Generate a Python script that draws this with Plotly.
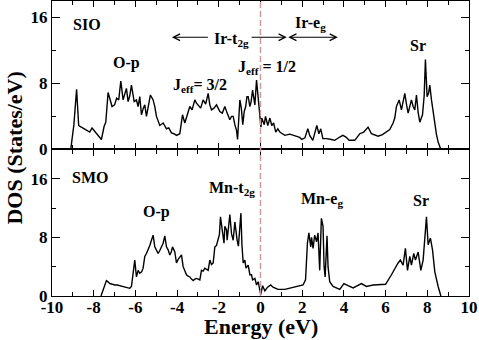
import plotly.graph_objects as go
from plotly.subplots import make_subplots

# SIO (top panel) DOS
sio_energy = [-9.10, -8.95, -8.82, -8.72, -8.45, -8.19, -8.08, -7.85, -7.63, -7.50, -7.42, -7.31, -7.20, -7.12,
              -7.00, -6.90, -6.80, -6.70, -6.59, -6.50, -6.43, -6.35, -6.27, -6.19, -6.12, -6.06, -5.95, -5.87,
              -5.79, -5.71, -5.62, -5.55, -5.47, -5.38, -5.28, -5.15, -5.07, -4.99, -4.90, -4.83, -4.67, -4.51,
              -4.40, -4.27, -4.15, -4.03, -3.87, -3.80, -3.74, -3.63, -3.50, -3.39, -3.28, -3.15, -3.07, -2.99,
              -2.87, -2.75, -2.63, -2.51, -2.43, -2.35, -2.23, -2.11, -2.03, -1.95, -1.83, -1.71, -1.60, -1.47,
              -1.39, -1.31, -1.23, -1.15, -1.10, -1.04, -0.99, -0.92, -0.85, -0.78, -0.71, -0.65, -0.59, -0.51,
              -0.45, -0.38, -0.27, -0.19, -0.12, -0.06, -0.02, 0.02, 0.06, 0.12, 0.18, 0.24, 0.30, 0.35, 0.45,
              0.54, 0.63, 0.73, 0.83, 0.93, 1.05, 1.17, 1.41, 1.65, 1.88, 1.98, 2.13, 2.27, 2.36, 2.51, 2.61,
              2.70, 2.80, 2.89, 2.99, 3.18, 3.40, 3.56, 3.80, 3.95, 4.10, 4.25, 4.52, 4.76, 4.95, 5.16, 5.32,
              5.64, 5.85, 6.04, 6.20, 6.36, 6.44, 6.52, 6.65, 6.76, 6.92, 7.00, 7.08, 7.24, 7.32, 7.40, 7.48,
              7.56, 7.64, 7.77, 7.85, 7.91, 7.99, 8.06, 8.12, 8.20, 8.28, 8.36, 8.44, 8.52, 8.63, 8.75]
sio_dos = [0, 3.0, 7.3, 2.9, 2.5, 2.1, 2.6, 1.9, 1.2, 2.8, 3.3, 6.9, 6.0, 5.2,
           5.4, 6.2, 6.0, 8.3, 6.0, 6.8, 7.4, 5.8, 6.5, 7.8, 6.4, 5.8, 6.0, 5.2,
           6.4, 4.2, 5.0, 5.4, 4.0, 5.5, 6.6, 6.0, 5.2, 4.0, 3.2, 2.9, 3.2, 2.5,
           2.6, 2.0, 1.9, 1.7, 1.9, 3.0, 4.2, 3.2, 4.3, 5.2, 4.8, 6.0, 5.6, 5.4,
           5.0, 6.0, 5.5, 6.8, 5.4, 4.8, 5.0, 5.4, 4.9, 4.6, 4.4, 5.2, 4.4, 3.6,
           4.0, 4.0, 3.0, 2.3, 1.2, 3.5, 6.0, 5.0, 3.0, 4.6, 5.2, 6.4, 6.4, 5.2,
           5.8, 7.2, 5.4, 8.4, 6.6, 5.0, 3.6, 2.7, 3.8, 3.4, 3.0, 4.0, 3.3, 2.9, 3.8,
           2.9, 3.2, 2.1, 2.5, 2.1, 1.9, 1.7, 1.85, 1.6, 1.45, 1.2, 1.4, 2.5, 1.7, 1.1, 2.1,
           2.9, 1.9, 2.5, 1.3, 1.3, 1.2, 1.1, 1.5, 1.7, 1.5, 1.1, 1.1, 1.9, 2.1, 2.7, 1.9,
           1.6, 1.8, 2.1, 2.4, 3.2, 3.8, 5.2, 6.0, 4.8, 6.8, 5.5, 4.4, 6.0, 5.2, 4.8, 6.6,
           4.5, 3.3, 4.2, 6.5, 10.9, 6.4, 6.8, 7.8, 6.0, 4.5, 2.9, 1.8, 0.9, 0.1, 0]

# SMO (bottom panel) DOS
smo_energy = [-7.65, -7.50, -7.39, -7.30, -7.23, -7.10, -6.99, -6.87, -6.75, -6.63, -6.51, -6.40, -6.27, -6.19,
              -6.11, -6.03, -5.95, -5.87, -5.79, -5.70, -5.63, -5.55, -5.47, -5.39, -5.31, -5.23, -5.15, -5.07,
              -4.99, -4.91, -4.83, -4.75, -4.67, -4.59, -4.51, -4.43, -4.35, -4.28, -4.22, -4.11, -4.03, -3.95,
              -3.87, -3.79, -3.71, -3.63, -3.55, -3.47, -3.39, -3.31, -3.23, -3.15, -3.07, -2.99, -2.91, -2.83,
              -2.75, -2.67, -2.59, -2.51, -2.43, -2.35, -2.27, -2.19, -2.11, -2.03, -1.97, -1.92, -1.87, -1.82,
              -1.75, -1.71, -1.63, -1.60, -1.52, -1.47, -1.39, -1.31, -1.23, -1.17, -1.12, -1.06, -1.00, -0.94,
              -0.89, -0.83, -0.75, -0.70, -0.59, -0.51, -0.43, -0.38, -0.27, -0.19, -0.11, -0.03, 0.01, 0.10,
              0.21, 0.34, 0.49, 0.60, 0.84, 1.17, 1.64, 2.04, 2.16, 2.25, 2.32, 2.41, 2.45, 2.52, 2.60, 2.69,
              2.76, 2.81, 2.84, 2.92, 3.00, 3.05, 3.10, 3.19, 3.24, 3.32, 3.48, 3.80, 4.00, 4.20, 4.44, 4.84,
              5.08, 5.40, 5.72, 6.00, 6.28, 6.44, 6.60, 6.71, 6.84, 6.95, 7.05, 7.16, 7.24, 7.35, 7.43, 7.56,
              7.69, 7.80, 7.96, 8.04, 8.15, 8.25, 8.36, 8.52, 8.65]
smo_dos = [0, 1.2, 2.1, 1.9, 1.7, 1.6, 1.5, 1.5, 1.4, 1.3, 1.2, 1.1, 1.05, 1.3,
           3.5, 4.9, 2.6, 3.5, 3.1, 3.3, 3.8, 5.4, 5.8, 6.3, 6.9, 7.6, 8.3, 6.7,
           6.3, 5.8, 6.2, 6.7, 7.2, 8.2, 6.7, 6.3, 5.6, 6.0, 6.7, 6.0, 4.5, 5.0,
           5.4, 5.6, 4.0, 3.3, 2.9, 2.7, 2.6, 2.3, 2.1, 2.3, 2.4, 2.3, 2.2, 3.5,
           3.4, 3.8, 3.6, 3.5, 4.9, 4.3, 4.5, 6.7, 6.9, 8.0, 8.4, 10.8, 9.5, 8.8,
           7.2, 9.5, 9.0, 7.6, 9.3, 11.1, 8.5, 7.6, 10.1, 8.3, 7.6, 6.8, 9.0, 11.3,
           7.0, 4.5, 4.9, 3.8, 4.2, 2.9, 2.9, 2.2, 2.4, 1.5, 1.95, 0.9, 0.2, 1.4,
           0.7, 1.2, 1.5, 1.2, 0.9, 0.9, 1.2, 1.5, 2.2, 7.2, 8.6, 6.7, 8.0, 6.5, 8.3, 7.4,
           8.6, 4.9, 3.5, 10.6, 9.5, 4.0, 2.6, 8.2, 4.0, 1.95, 1.3, 0.9, 1.7, 1.4, 1.1, 1.7,
           1.3, 1.5, 1.5, 1.6, 2.9, 3.8, 4.5, 4.9, 4.2, 6.5, 3.5, 5.4, 4.2, 5.8, 4.9, 6.0,
           3.5, 4.9, 10.8, 7.0, 7.9, 6.3, 3.3, 1.3, 0]

x_ticks = [-10, -8, -6, -4, -2, 0, 2, 4, 6, 8, 10]
x_tick_text = ["-10", "-8", "-6", "-4", "-2", "0", "2", "4", "6", "8", "10"]
y_ticks = [0, 8, 16]

font_family = "Liberation Serif, Times New Roman, serif"
black = "black"

fig = make_subplots(rows=2, cols=1, shared_xaxes=True, vertical_spacing=0)

fig.add_trace(go.Scatter(x=sio_energy, y=sio_dos, mode="lines",
                         line=dict(color=black, width=1.4), showlegend=False), row=1, col=1)
fig.add_trace(go.Scatter(x=smo_energy, y=smo_dos, mode="lines",
                         line=dict(color=black, width=1.4), showlegend=False), row=2, col=1)

axis_common = dict(showline=True, linecolor=black, linewidth=1.3, mirror="ticks",
                   ticks="inside", tickcolor=black, tickwidth=1.2, showgrid=False, zeroline=False,
                   automargin=False,
                   tickfont=dict(family=font_family, size=17, color=black, weight="bold"))

fig.update_xaxes(range=[-10, 10], tickvals=x_ticks, ticktext=x_tick_text, ticklen=6,
                 minor=dict(dtick=1, ticks="inside", ticklen=4, tickcolor=black, tickwidth=1.2),
                 **axis_common)
fig.update_yaxes(tickvals=y_ticks, ticklen=8,
                 minor=dict(dtick=4, ticks="inside", ticklen=4, tickcolor=black, tickwidth=1.2),
                 **axis_common)
fig.update_yaxes(range=[0, 18], domain=[0.497, 1], row=1, col=1)
fig.update_yaxes(range=[0, 20], domain=[0, 0.497], row=2, col=1)
fig.update_xaxes(ticklabelstandoff=-5, row=2, col=1)

# Fermi level
fig.add_shape(type="line", xref="x", yref="paper", x0=0, x1=0, y0=0, y1=1,
              line=dict(color="#c99c9c", width=1.5, dash="6px,3px"))

lab_font = dict(family=font_family, size=16, color=black, weight="bold")


def label(text, x, y, panel, xanchor="center"):
    ys = "y" if panel == 1 else "y2"
    xs = "x" if panel == 1 else "x2"
    fig.add_annotation(text=text, x=x, y=y, xref=xs, yref=ys, showarrow=False,
                       xanchor=xanchor, yanchor="middle", font=lab_font)


def arrow(x_head, x_tail, y, side="end"):
    fig.add_annotation(text="", x=x_head, y=y, ax=x_tail, ay=y, xref="x", yref="y",
                       axref="x", ayref="y", showarrow=True, arrowhead=5, startarrowhead=5,
                       arrowside=side, arrowsize=1.1, arrowwidth=1.2, arrowcolor=black)


label("SIO", -8.33, 15.2, 1)
label("O-p", -6.41, 10.5, 1)
label("J<sub>eff</sub>= 3/2", -4.28, 7.7, 1, xanchor="left")
label("J<sub>eff</sub> = 1/2", -1.16, 9.9, 1, xanchor="left")
label("Ir-t<sub>2g</sub>", -2.35, 13.3, 1, xanchor="left")
label("Ir-e<sub>g</sub>", 1.55, 15.3, 1, xanchor="left")
label("Sr", 7.55, 12.6, 1)
arrow(-4.25, -2.45, 13.6)
arrow(1.26, -0.5, 13.6)
arrow(3.71, 1.26, 13.6, side="end+start")

label("SMO", -8.19, 16.1, 2)
label("O-p", -4.97, 11.5, 2)
label("Mn-t<sub>2g</sub>", -2.55, 14.6, 2, xanchor="left")
label("Mn-e<sub>g</sub>", 1.84, 13.2, 2, xanchor="left")
label("Sr", 7.69, 13.0, 2)

title_font = dict(family=font_family, size=22, color=black, weight="bold")
fig.add_annotation(text="DOS (States/eV)", x=-0.091, y=0.5, xref="paper", yref="paper",
                   textangle=-90, showarrow=False, xanchor="center", yanchor="middle", font=title_font)
fig.add_annotation(text="Energy (eV)", x=0.5, y=-0.104, xref="paper", yref="paper",
                   showarrow=False, xanchor="center", yanchor="middle", font=title_font)

fig.update_layout(width=479, height=340, margin=dict(l=52, r=10, t=1, b=44),
                  plot_bgcolor="white", paper_bgcolor="white",
                  font=dict(family=font_family, color=black))

fig.write_html("out.html", config={"displayModeBar": False},
               post_script="document.body.style.margin = '0';")
